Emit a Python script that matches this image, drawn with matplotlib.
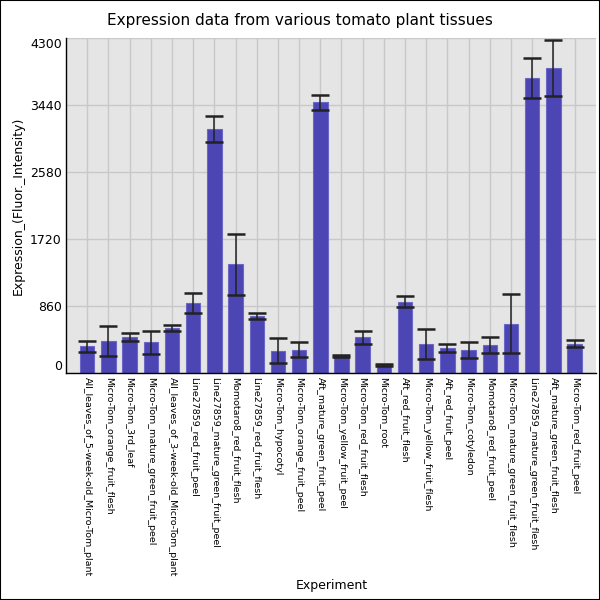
import matplotlib
matplotlib.use('Agg')
import matplotlib.pyplot as plt
import numpy as np

tissues = [
    'All_leaves_of_5-week-old_Micro-Tom_plant',
    'Micro-Tom_orange_fruit_flesh',
    'Micro-Tom_3rd_leaf',
    'Micro-Tom_mature_green_fruit_peel',
    'All_leaves_of_3-week-old_Micro-Tom_plant',
    'Line27859_red_fruit_peel',
    'Line27859_mature_green_fruit_peel',
    'Momotaro8_red_fruit_flesh',
    'Line27859_red_fruit_flesh',
    'Micro-Tom_hypocotyl',
    'Micro-Tom_orange_fruit_peel',
    'Aft_mature_green_fruit_peel',
    'Micro-Tom_yellow_fruit_peel',
    'Micro-Tom_red_fruit_flesh',
    'Micro-Tom_root',
    'Aft_red_fruit_flesh',
    'Micro-Tom_yellow_fruit_flesh',
    'Aft_red_fruit_peel',
    'Micro-Tom_cotyledon',
    'Momotaro8_red_fruit_peel',
    'Micro-Tom_mature_green_fruit_flesh',
    'Line27859_mature_green_fruit_flesh',
    'Aft_mature_green_fruit_flesh',
    'Micro-Tom_red_fruit_peel',
]
expression = [346, 412, 465, 400, 575, 900, 3130, 1400, 735, 287, 300, 3480,
              220, 460, 105, 920, 373, 320, 297, 360, 637, 3793, 3922, 380]
errors = [68, 193, 47, 148, 39, 125, 167, 394, 34, 161, 97, 97,
          12, 82, 13, 68, 195, 50, 105, 103, 381, 255, 362, 43]
yticks = [0, 860, 1720, 2580, 3440, 4300]

fig = plt.figure(figsize=(6, 6), dpi=100)
ax = fig.add_axes([0.11, 0.378, 0.883, 0.558])
ax.set_facecolor('#e5e5e5')

x = np.arange(len(tissues))
ax.bar(x, expression, width=0.68, color='#4b46b3', edgecolor='#6b67c6',
       linewidth=0.8, zorder=2)
ax.errorbar(x, expression, yerr=errors, fmt='none', ecolor='#222222',
            elinewidth=1.1, capsize=6.5, capthick=1.8, zorder=3)

ax.set_xlim(-1, len(tissues))
ax.set_ylim(0, 4300)
ax.set_xticks(x)
ax.set_xticklabels(tissues, rotation=-90, fontsize=6.8, va='top', ha='center')
ax.set_yticks(yticks)
ax.set_yticklabels([str(t) for t in yticks], fontsize=9)
ax.tick_params(length=0, pad=3)
ax.grid(True, color='#c8c8c8', linewidth=1.0, zorder=0)
ax.set_axisbelow(True)
for s in ['top', 'right']:
    ax.spines[s].set_visible(False)
for s in ['left', 'bottom']:
    ax.spines[s].set_color('black')
    ax.spines[s].set_linewidth(1.0)

labels = ax.get_yticklabels()
labels[0].set_va('bottom')
labels[-1].set_va('top')

ax.set_ylabel('Expression_(Fluor._Intensity)', fontsize=9, labelpad=4)
fig.text(0.553, 0.018, 'Experiment', ha='center', fontsize=9)
fig.text(0.5, 0.965, 'Expression data from various tomato plant tissues',
         ha='center', va='center', fontsize=11)

border = plt.Rectangle((0, 0), 1, 1, transform=fig.transFigure, fill=False,
                       edgecolor='black', linewidth=1.5)
fig.patches.append(border)

fig.savefig('out.png', dpi=100)
